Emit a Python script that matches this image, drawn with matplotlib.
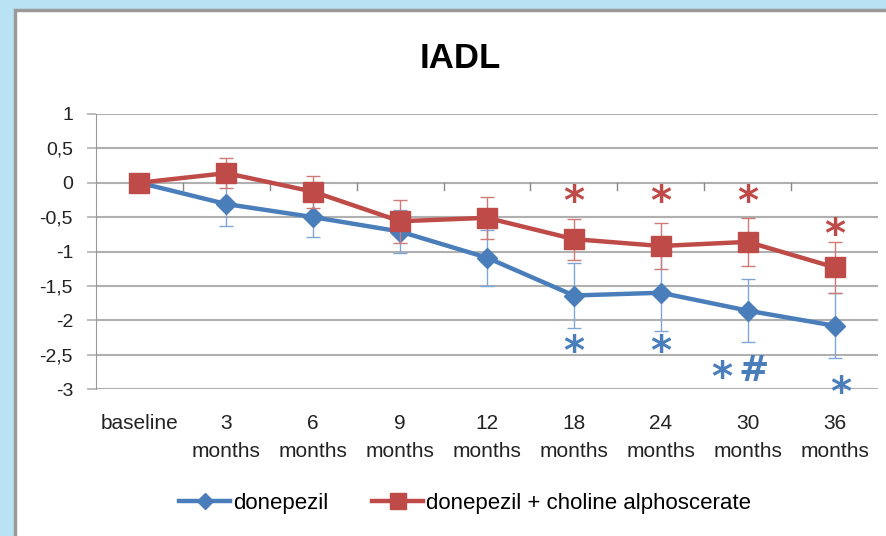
import matplotlib.pyplot as plt
from matplotlib.patches import Rectangle
from matplotlib.lines import Line2D

# IADL change from baseline, two treatment arms
timepoints = ["baseline", "3\nmonths", "6\nmonths", "9\nmonths", "12\nmonths",
              "18\nmonths", "24\nmonths", "30\nmonths", "36\nmonths"]
donepezil = [0, -0.31, -0.50, -0.71, -1.09, -1.64, -1.60, -1.86, -2.08]
donepezil_err = [0, 0.32, 0.29, 0.31, 0.41, 0.47, 0.56, 0.46, 0.47]
combo = [0, 0.14, -0.13, -0.56, -0.51, -0.82, -0.92, -0.86, -1.23]
combo_err = [0, 0.22, 0.23, 0.31, 0.31, 0.30, 0.33, 0.35, 0.37]

# significance marks: (category index, offset, y, symbol)
combo_marks = [(5, 0, -0.30, "*"), (6, 0, -0.30, "*"), (7, 0, -0.30, "*"), (8, 0, -0.77, "*")]
donep_marks = [(5, 0, -2.48, "*"), (6, 0, -2.48, "*"), (7, -0.3, -2.85, "*"),
               (7, 0.07, -2.74, "#"), (8, 0.07, -3.07, "*")]

yticks = [1, 0.5, 0, -0.5, -1, -1.5, -2, -2.5, -3]

blue = "#4A7EBB"
red = "#BE4B48"
grid = "#b0b0b0"

plt.rcParams["font.family"] = ["Liberation Sans", "DejaVu Sans"]

fig = plt.figure(figsize=(8.87, 5.36), dpi=100, facecolor="#b9e3f4")
# white panel with grey frame
fig.patches.append(Rectangle((15 / 887, -0.1), 1.0, 1 - 10 / 536 + 0.1,
                             transform=fig.transFigure, facecolor="white",
                             edgecolor="#9a9a9a", linewidth=2.5, zorder=-5))

ax = fig.add_axes([96 / 887, 1 - 389 / 536, 782 / 887, 275 / 536])
ax.set_facecolor("none")
x = list(range(len(timepoints)))

for v in yticks:
    ax.axhline(v, color=grid, linewidth=1.5, zorder=0)

ax.errorbar(x, donepezil, yerr=donepezil_err, color=blue, linewidth=3.2,
            marker="D", markersize=10, elinewidth=1, ecolor="#7fa6d6",
            capsize=5, capthick=1, zorder=3)
ax.errorbar(x, combo, yerr=combo_err, color=red, linewidth=3.2,
            marker="s", markersize=14, elinewidth=1, ecolor="#d07a77",
            capsize=5, capthick=1, zorder=4)

for i, dx, y, s in combo_marks:
    ax.text(i + dx, y, s, color=red, fontsize=29, fontweight="bold",
            ha="center", va="center", family="DejaVu Sans")
for i, dx, y, s in donep_marks:
    ax.text(i + dx, y, s, color=blue, fontsize=29 if s == "*" else 26,
            fontweight="bold", ha="center", va="center", family="DejaVu Sans")

# category tick marks hanging below the zero line
for b in [k + 0.5 for k in x[:-1]]:
    ax.plot([b, b], [0, -0.1], color="#888888", linewidth=1, zorder=1)

ax.set_xlim(-0.5, 8.5)
ax.set_ylim(-3, 1)
ax.set_yticks(yticks)
ax.set_yticklabels([("%g" % v).replace(".", ",") for v in yticks])
ax.set_xticks(x)
ax.set_xticklabels(timepoints, linespacing=1.6)
ax.tick_params(axis="x", length=0, pad=18, labelsize=15, colors="#222222")
ax.tick_params(axis="y", length=6.5, width=1.2, pad=10, labelsize=14,
               colors="#222222", color=grid)
for side in ["top", "right", "bottom"]:
    ax.spines[side].set_visible(False)
ax.spines["left"].set_color("#999999")

fig.text(460 / 887, 1 - 59 / 536, "IADL", fontsize=25, fontweight="bold",
         ha="center", va="center")

handles = [Line2D([], [], color=blue, linewidth=3.2, marker="D", markersize=8),
           Line2D([], [], color=red, linewidth=3.2, marker="s", markersize=11)]
fig.legend(handles, ["donepezil", "donepezil + choline alphoscerate"],
           loc="center", bbox_to_anchor=(465 / 887, 1 - 503 / 536), ncol=2,
           frameon=False, fontsize=16, handlelength=2.3, handletextpad=0.1,
           columnspacing=2.0)

fig.savefig("out.png", dpi=100)
